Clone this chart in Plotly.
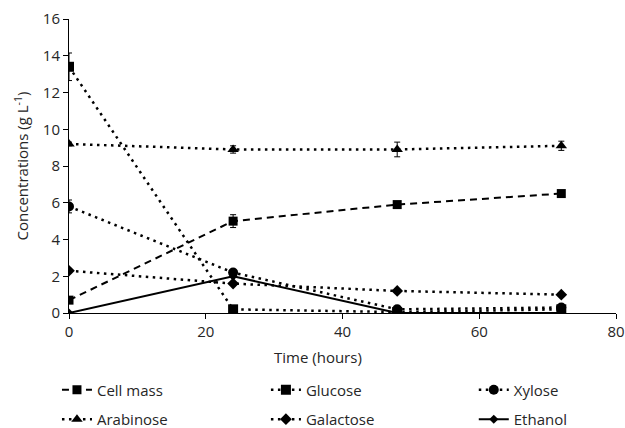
import plotly.graph_objects as go

time = [0, 24, 48, 72]
cell_mass = [0.7, 5.0, 5.9, 6.5]
cell_mass_err = [0.1, 0.35, 0.15, 0.1]
glucose = [13.4, 0.2, 0.05, 0.2]
glucose_err = [0.75, 0.05, 0.02, 0.05]
xylose = [5.8, 2.2, 0.2, 0.3]
xylose_err = [0.35, 0.1, 0.05, 0.05]
arabinose = [9.2, 8.9, 8.9, 9.1]
arabinose_err = [0.1, 0.2, 0.4, 0.25]
galactose = [2.3, 1.6, 1.2, 1.0]
galactose_err = [0.1, 0.1, 0.05, 0.05]
ethanol = [0.0, 2.0, 0.0, 0.0]
ethanol_err = [0.0, 0.05, 0.0, 0.0]

FONT = "Open Sans"
FS = 15
TXT = "#262626"

series = [
    ("Cell mass", cell_mass, cell_mass_err, "square", 9, "7px,5px", 2),
    ("Glucose", glucose, glucose_err, "square", 10, "2.5px,4.5px", 2.5),
    ("Xylose", xylose, xylose_err, "circle", 10, "2.5px,4.5px", 2.5),
    ("Arabinose", arabinose, arabinose_err, "triangle-up", 10, "2.5px,4.5px", 2.5),
    ("Galactose", galactose, galactose_err, "diamond", 9, "2.5px,4.5px", 2.5),
    ("Ethanol", ethanol, ethanol_err, "diamond", 7, "solid", 2),
]
legend_x = [-0.022, 0.360, 0.740]
legend_y = [-0.262, -0.362]

fig = go.Figure()
legends = {}
for i, (name, vals, errs, sym, size, dash, lw) in enumerate(series):
    key = "legend" if i == 0 else f"legend{i+1}"
    fig.add_trace(go.Scatter(
        x=time, y=vals, name=name, mode="lines+markers",
        line=dict(color="black", width=lw, dash=dash),
        marker=dict(symbol=sym, size=size, color="black"),
        error_y=dict(type="data", array=errs, visible=True, color="black", thickness=1, width=3),
        legend=key,
    ))
    legends[key] = dict(
        x=legend_x[i % 3], y=legend_y[i // 3],
        xanchor="left", yanchor="middle", orientation="h",
        font=dict(family=FONT, size=FS, color=TXT),
        bgcolor="rgba(0,0,0,0)",
    )

fig.update_layout(
    width=625, height=428,
    margin=dict(l=69, r=9, t=19, b=115, autoexpand=False),
    paper_bgcolor="white", plot_bgcolor="white",
    font=dict(family=FONT, size=FS, color=TXT),
    showlegend=True,
    xaxis=dict(
        range=[0, 80], dtick=20, tick0=0, showgrid=False, zeroline=False,
        showline=True, linecolor="black", linewidth=1,
        ticks="outside", ticklen=5, tickcolor="black",
        tickfont=dict(family=FONT, size=FS, color=TXT),
    ),
    yaxis=dict(
        range=[0, 16], dtick=2, tick0=0, showgrid=False, zeroline=False,
        showline=True, linecolor="black", linewidth=1,
        ticks="outside", ticklen=5, tickcolor="black",
        tickfont=dict(family=FONT, size=FS, color=TXT),
        title=dict(text="Concentrations (g L<sup>-1</sup>)", font=dict(family=FONT, size=FS, color=TXT), standoff=10),
    ),
    annotations=[dict(
        text="Time (hours)", xref="paper", yref="paper", x=0.455, y=-0.15,
        xanchor="center", yanchor="middle", showarrow=False,
        font=dict(family=FONT, size=FS, color=TXT),
    )],
    **legends,
)

fig.write_html("out.html")
